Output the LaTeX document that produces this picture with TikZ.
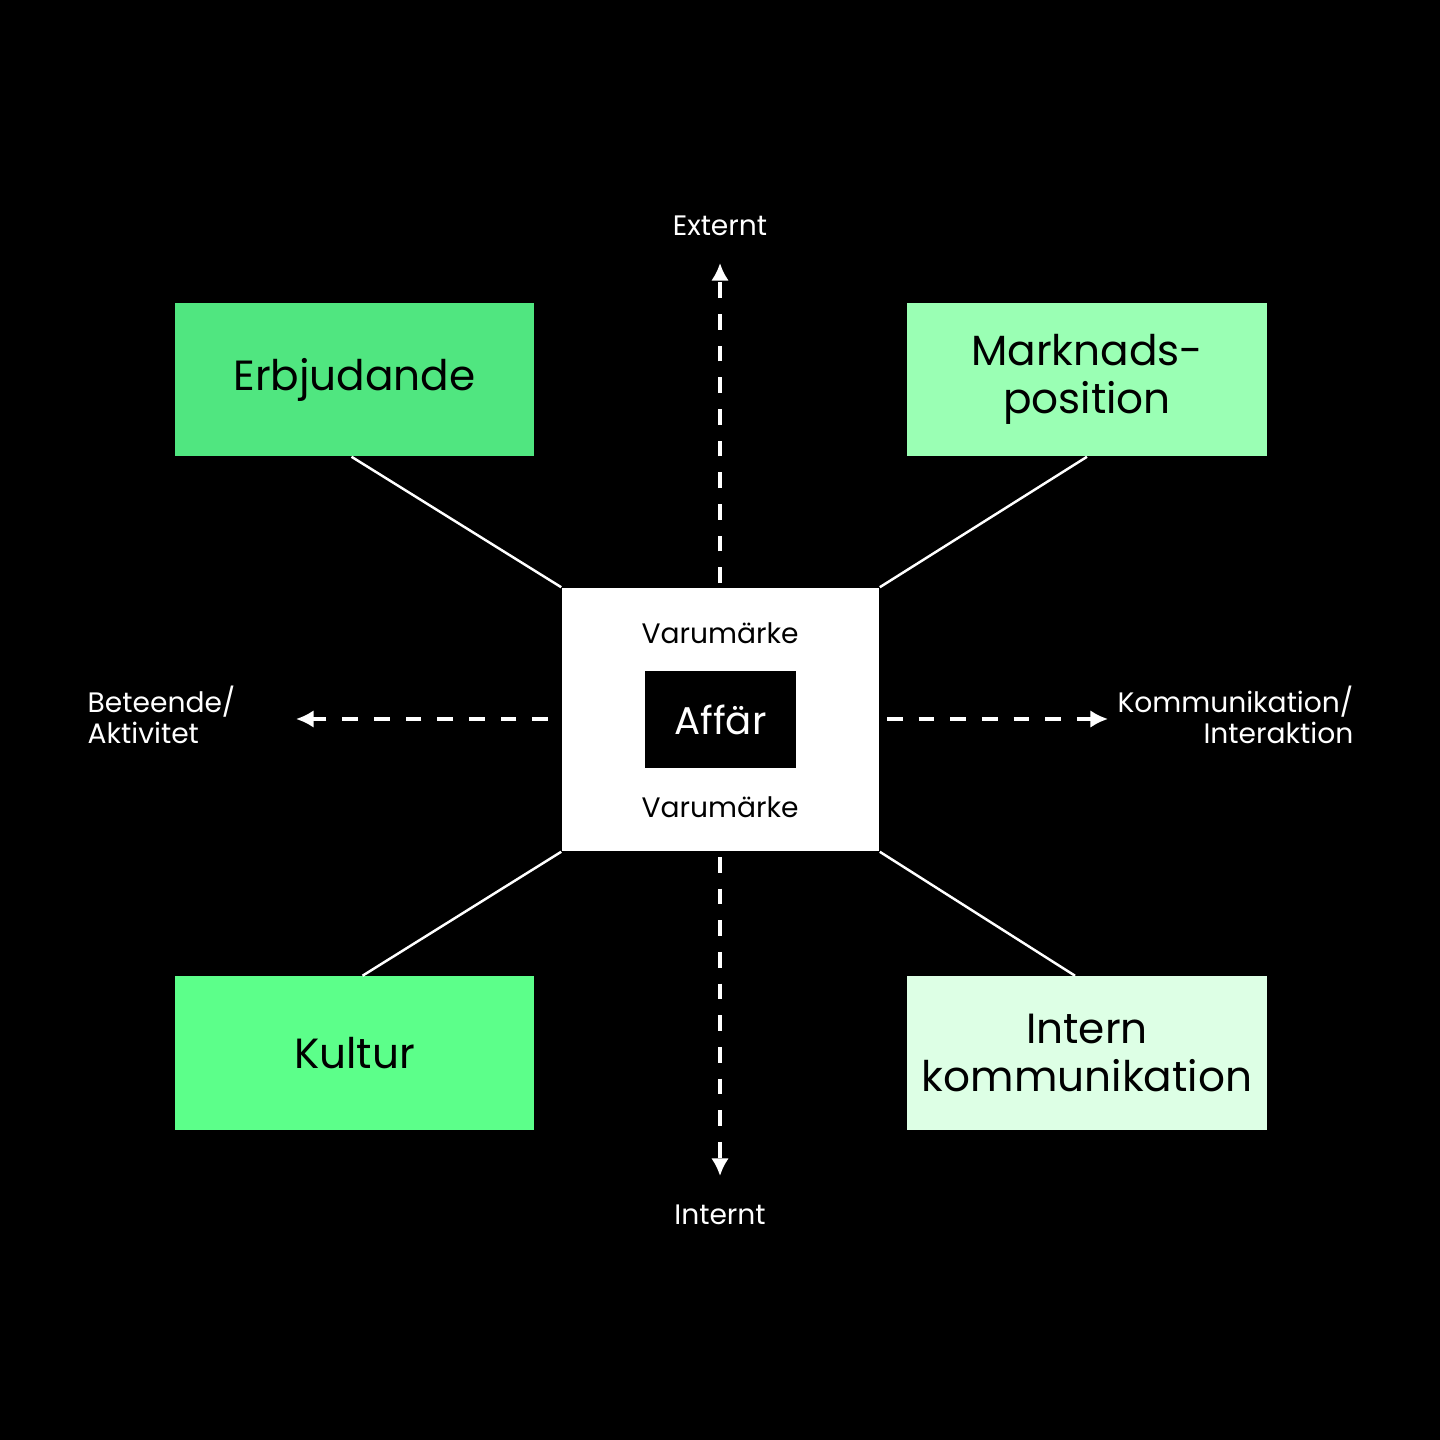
\documentclass[tikz,border=0pt]{standalone}
\usepackage{fontspec}
\setmainfont{Poppins}
\usetikzlibrary{arrows.meta}
\begin{document}
\begin{tikzpicture}[x=0.01cm,y=-0.01cm,
  box/.style={draw=none,minimum width=3.59cm,minimum height=1.53cm,align=center,font=\fontsize{12}{13.5}\selectfont,text=black},
  conn/.style={draw=white,line width=0.7pt},
  darr/.style={draw=white,line width=0.9pt,dash pattern=on 4.5pt off 4.5pt,-{Latex[length=5pt,width=5pt]}},
  lbl/.style={text=white,font=\fontsize{8}{9}\selectfont,inner sep=0pt}]
\fill[black] (0,0) rectangle (1440,1440);
\node[box,fill={rgb,255:red,80;green,230;blue,128}] (erb) at (354.5,379.5) {Erbjudande};
\node[box,fill={rgb,255:red,154;green,255;blue,180}] (mar) at (1087,379.5) {Marknads-\\position};
\node[box,fill={rgb,255:red,92;green,255;blue,138}] (kul) at (354.5,1053) {Kultur};
\node[box,fill={rgb,255:red,221;green,255;blue,229}] (int) at (1087,1053) {Intern\\kommunikation};
\node[fill=white,minimum width=3.17cm,minimum height=2.63cm,inner sep=0pt] (c) at (720.5,719.5) {};
\node[fill=black,minimum width=1.51cm,minimum height=0.97cm,text=white,font=\fontsize{11}{12}\selectfont] (aff) at (720.5,719.5) {Affär};
\node[font=\fontsize{8}{9}\selectfont,text=black] (v1) at (720,633) {Varumärke};
\node[font=\fontsize{8}{9}\selectfont,text=black] (v2) at (720,807) {Varumärke};
\draw[conn] (erb.south) ++(-3,0) coordinate (e1) -- (c.north west);
\draw[conn] (mar.south) -- (c.north east);
\draw[conn] (kul.north) ++(8,0) -- (c.south west);
\draw[conn] (int.north) ++(-12,0) -- (c.south east);
\coordinate (u0) at (720,583); \coordinate (u1) at (720,263);
\coordinate (d0) at (720,857); \coordinate (d1) at (720,1176);
\coordinate (l0) at (548,719); \coordinate (l1) at (296,719);
\coordinate (r0) at (887,719); \coordinate (r1) at (1108,719);
\draw[darr] (u0) -- (u1);
\draw[darr] (d0) -- (d1);
\draw[darr] (l0) -- (l1);
\draw[darr] (r0) -- (r1);
\node[lbl] (ext) at (720,226) {Externt};
\node[lbl] (inr) at (720,1215) {Internt};
\node[lbl,anchor=west,align=left] (bet) at (87,715) {Beteende/\\Aktivitet};
\node[lbl,anchor=east,align=right] (kom) at (1354,715) {Kommunikation/\\Interaktion};
\end{tikzpicture}
\end{document}
